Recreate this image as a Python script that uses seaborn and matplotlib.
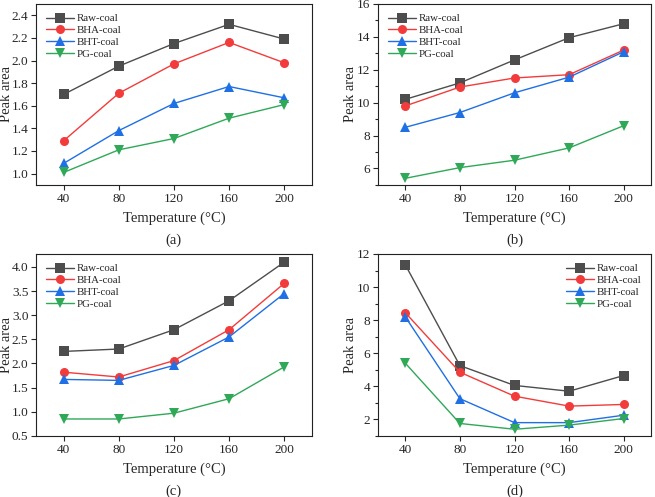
#!/usr/bin/env python3

import numpy as np
import pandas
import seaborn as sns
import matplotlib.pyplot as plt
from matplotlib.ticker import AutoMinorLocator

temps = [40, 80, 120, 160, 200]
samples = ["Raw-coal", "BHA-coal", "BHT-coal", "PG-coal"]

# panel (a)
a_raw = [1.70, 1.95, 2.15, 2.32, 2.19]
a_bha = [1.29, 1.71, 1.97, 2.16, 1.98]
a_bht = [1.09, 1.38, 1.62, 1.77, 1.67]
a_pg = [1.01, 1.21, 1.31, 1.49, 1.61]

# panel (b)
b_raw = [10.2, 11.2, 12.6, 13.95, 14.8]
b_bha = [9.8, 10.95, 11.5, 11.7, 13.2]
b_bht = [8.5, 9.4, 10.6, 11.55, 13.1]
b_pg = [5.4, 6.05, 6.5, 7.25, 8.6]

# panel (c)
c_raw = [2.25, 2.30, 2.70, 3.30, 4.10]
c_bha = [1.82, 1.72, 2.06, 2.70, 3.66]
c_bht = [1.67, 1.65, 1.96, 2.55, 3.45]
c_pg = [0.85, 0.85, 0.97, 1.27, 1.93]

# panel (d)
d_raw = [11.35, 5.25, 4.05, 3.70, 4.65]
d_bha = [8.45, 4.85, 3.40, 2.80, 2.90]
d_bht = [8.20, 3.25, 1.80, 1.80, 2.25]
d_pg = [5.40, 1.75, 1.40, 1.65, 2.05]

palette = {
    "Raw-coal": "#4d4d4d",
    "BHA-coal": "#f23c3c",
    "BHT-coal": "#1f6fe5",
    "PG-coal": "#2fa858",
}
markers = {"Raw-coal": "s", "BHA-coal": "o", "BHT-coal": "^", "PG-coal": "v"}


def to_frame(series):
    """
    Long-form table for one panel.
    """
    rows = []
    for name, values in zip(samples, series):
        for t, v in zip(temps, values):
            rows.append([t, v, name])
    return pandas.DataFrame(rows, columns=["temperature", "peak_area", "sample"])


def make_panel(ax, df, ylim, yticks, tag, legend_loc, minor, ylabel_x):
    sns.lineplot(
        data=df,
        x="temperature",
        y="peak_area",
        hue="sample",
        style="sample",
        markers=markers,
        dashes=False,
        palette=palette,
        markersize=6.5,
        markeredgewidth=0,
        linewidth=1.0,
        ax=ax,
    )
    ax.set_xlim(20, 220)
    ax.set_ylim(*ylim)
    ax.set_xticks(temps)
    ax.set_yticks(yticks)
    if minor:
        ax.yaxis.set_minor_locator(AutoMinorLocator(2))
    ax.tick_params(axis="both", labelsize=9.5, direction="out", length=3.5,
                   width=0.8, pad=2)
    ax.tick_params(axis="y", which="minor", length=2, width=0.8)
    ax.set_xlabel("Temperature (°C)", fontsize=10.5, labelpad=5)
    ax.set_ylabel("Peak area", fontsize=10.5)
    # label sits right against the figure edge in the original
    ax.yaxis.set_label_coords(ylabel_x, 0.5)
    for spine in ax.spines.values():
        spine.set_linewidth(0.8)
        spine.set_color("#222222")
    ax.legend(
        loc=legend_loc,
        frameon=False,
        fontsize=7.8,
        handlelength=2.6,
        handletextpad=0.25,
        labelspacing=0.2,
        borderaxespad=0.5,
    )
    ax.text(0.5, -0.27, tag, transform=ax.transAxes, ha="center", va="top",
            fontsize=10.5)


def main():
    sns.set_style("ticks")
    plt.rcParams["font.family"] = ["Liberation Serif", "DejaVu Serif"]

    fig = plt.figure(figsize=(6.55, 4.97), dpi=100)
    ax_a = fig.add_axes([0.055, 0.628, 0.421, 0.364])
    ax_b = fig.add_axes([0.577, 0.628, 0.417, 0.364])
    ax_c = fig.add_axes([0.055, 0.123, 0.421, 0.366])
    ax_d = fig.add_axes([0.577, 0.123, 0.417, 0.366])

    make_panel(ax_a, to_frame([a_raw, a_bha, a_bht, a_pg]), (0.9, 2.5),
               np.arange(1.0, 2.41, 0.2), "(a)", "upper left", False, -0.085)
    make_panel(ax_b, to_frame([b_raw, b_bha, b_bht, b_pg]), (5, 16),
               [6, 8, 10, 12, 14, 16], "(b)", "upper left", True, -0.075)
    make_panel(ax_c, to_frame([c_raw, c_bha, c_bht, c_pg]), (0.5, 4.27),
               np.arange(0.5, 4.01, 0.5), "(c)", "upper left", False, -0.085)
    make_panel(ax_d, to_frame([d_raw, d_bha, d_bht, d_pg]), (1, 12),
               [2, 4, 6, 8, 10, 12], "(d)", "upper right", True, -0.075)

    ax_a.yaxis.set_major_formatter(plt.FormatStrFormatter("%.1f"))
    ax_c.yaxis.set_major_formatter(plt.FormatStrFormatter("%.1f"))

    fig.savefig("out.png", dpi=100)


if __name__ == "__main__":
    main()
